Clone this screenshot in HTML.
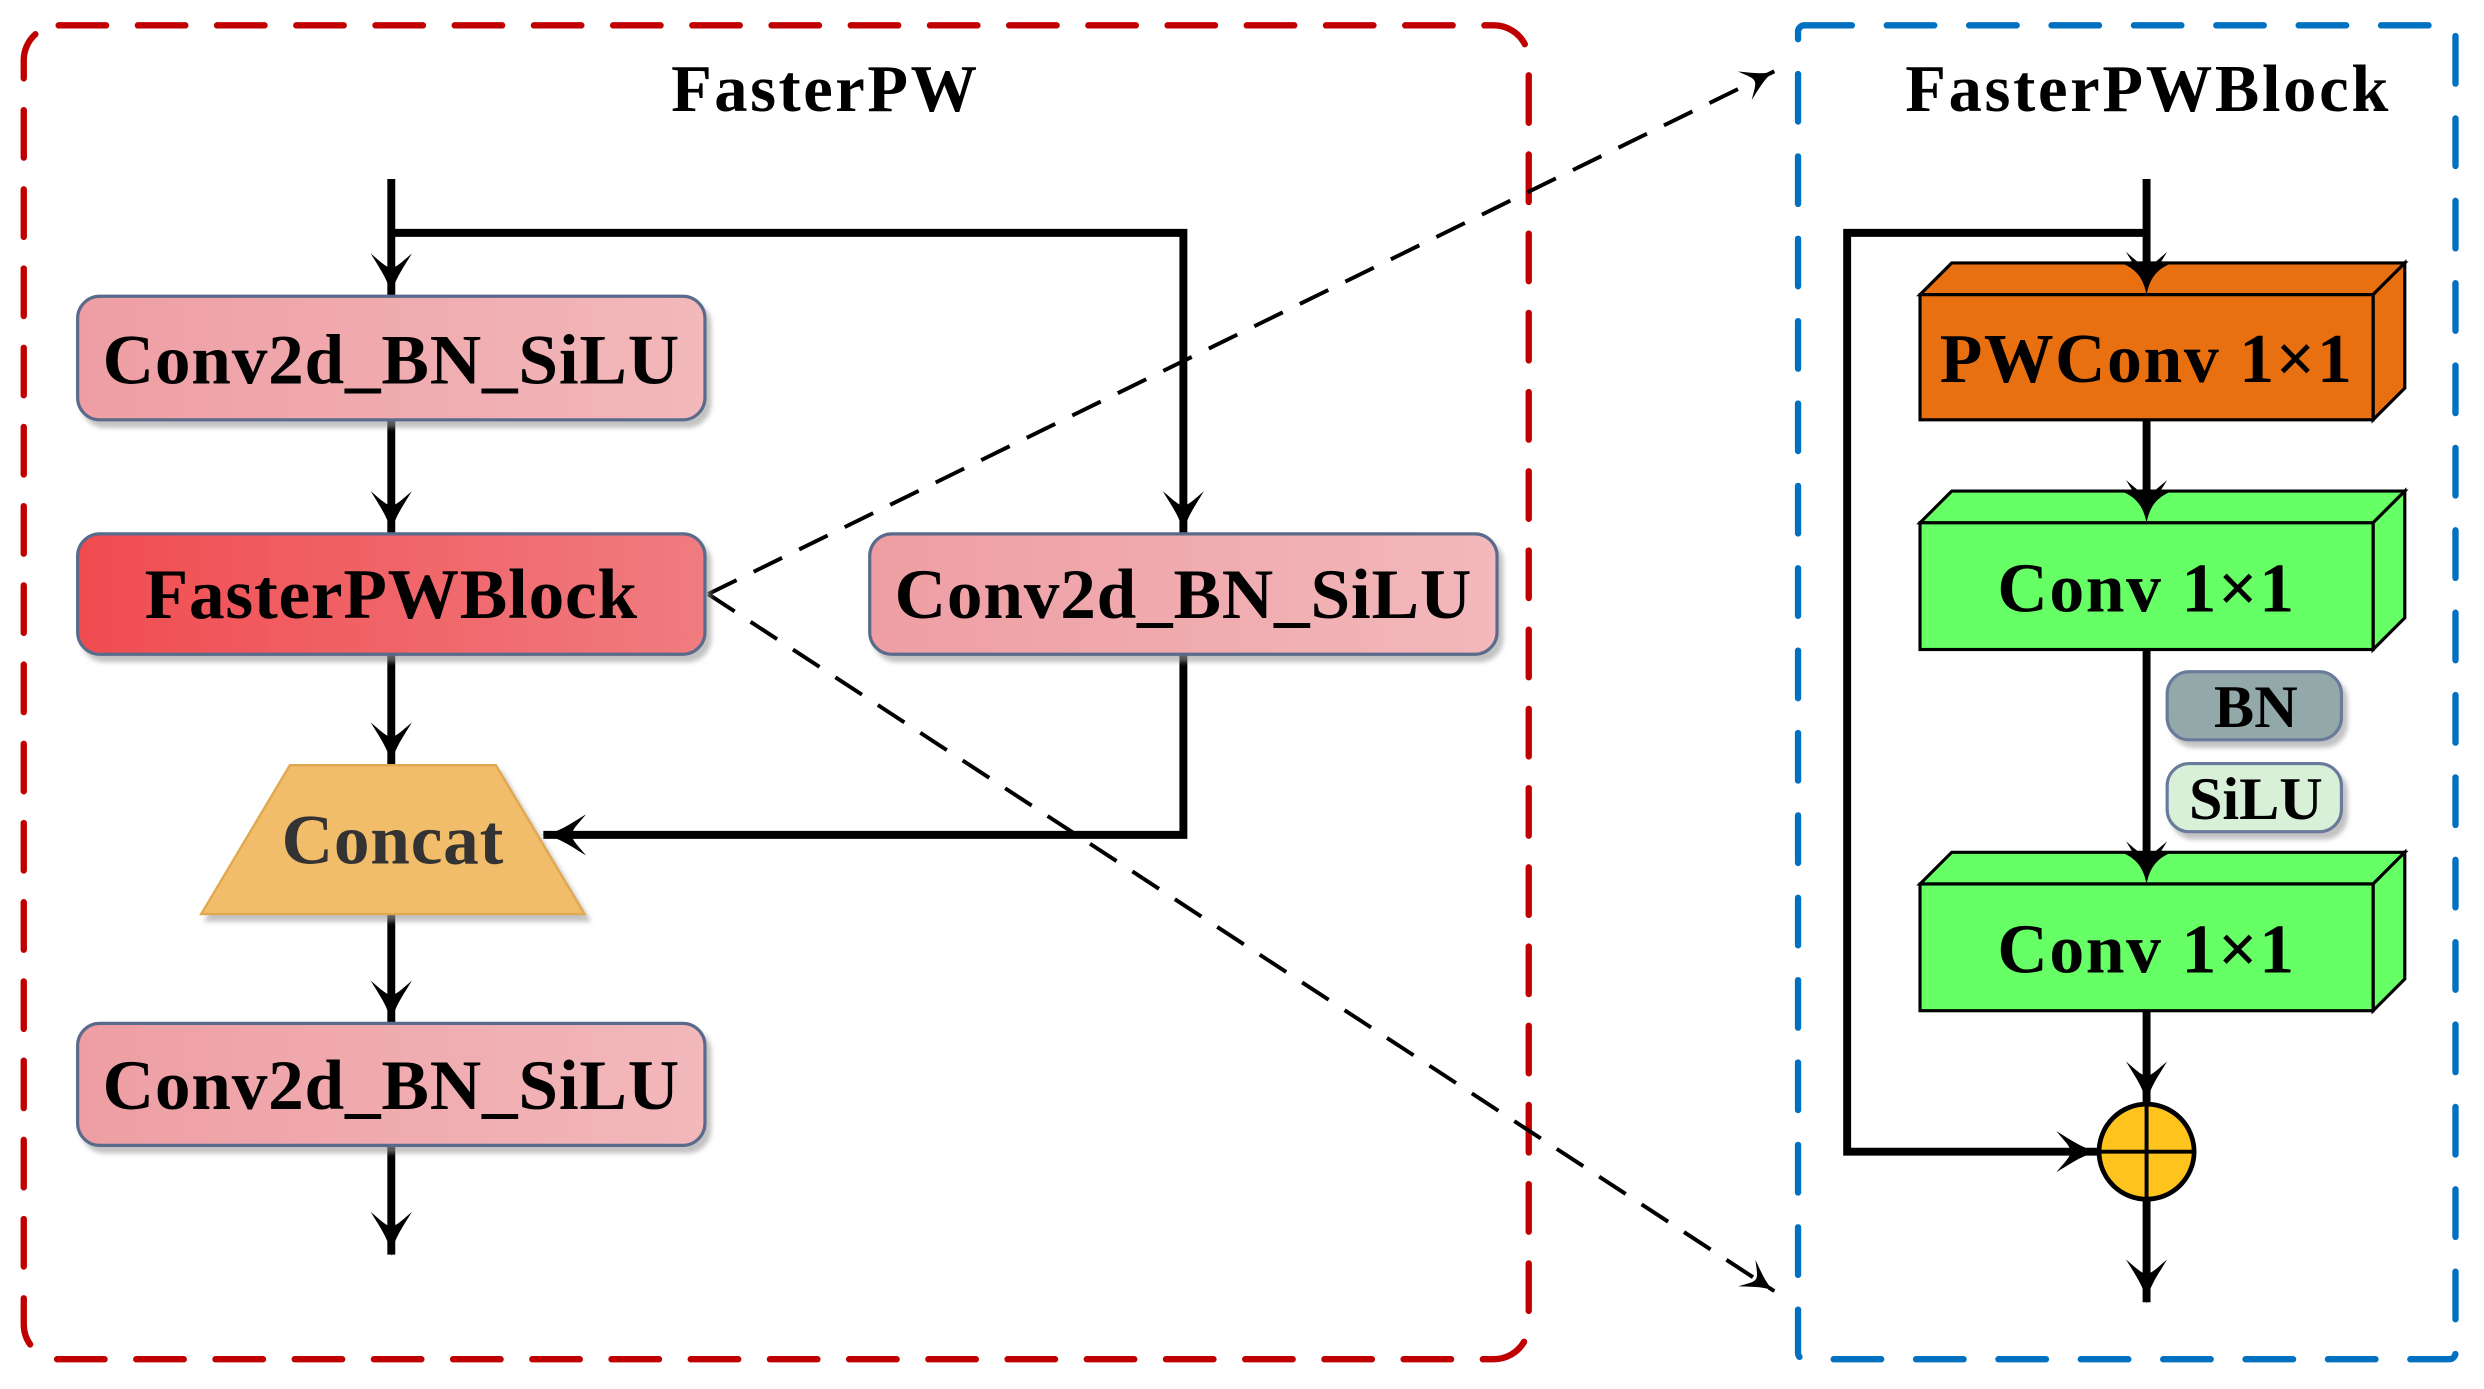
<!DOCTYPE html>
<html><head><meta charset="utf-8"><style>html,body{margin:0;padding:0;background:#fff;overflow:hidden}svg{display:block}</style></head>
<body>
<svg width="2484" height="1389" viewBox="0 0 1568 876.8" preserveAspectRatio="none" xmlns="http://www.w3.org/2000/svg" font-family="Liberation Serif, serif" font-weight="bold">
<defs>
<marker id="ah" viewBox="0 0 28 26" refX="27" refY="13" markerWidth="28" markerHeight="26" markerUnits="userSpaceOnUse" orient="auto">
<path d="M0,0 C10,6 18,12 28,13 C18,14 10,20 0,26 C6,19 9,16 9,13 C9,10 6,7 0,0Z" fill="#000"/>
</marker>
<marker id="ah2" viewBox="0 0 28 26" refX="27" refY="13" markerWidth="22" markerHeight="20" markerUnits="userSpaceOnUse" orient="auto">
<path d="M0,0 C10,6 18,12 28,13 C18,14 10,20 0,26 C6,19 9,16 9,13 C9,10 6,7 0,0Z" fill="#000"/>
</marker>
<linearGradient id="pk" x1="0" x2="1"><stop offset="0" stop-color="#ee9ea3"/><stop offset="1" stop-color="#f2b8bb"/></linearGradient>
<linearGradient id="rd" x1="0" x2="1"><stop offset="0" stop-color="#f04c50"/><stop offset="1" stop-color="#f07c80"/></linearGradient>
<filter id="sh"><feDropShadow dx="3" dy="4" stdDeviation="1.5" flood-color="#999" flood-opacity="0.6"/></filter>
</defs>
<rect x="15" y="16" width="950" height="842" rx="22" fill="none" stroke="#c00000" stroke-width="4" stroke-dasharray="30 20" stroke-linecap="round"/>
<rect x="1135" y="16" width="415" height="842" rx="4" fill="none" stroke="#0070c0" stroke-width="4" stroke-dasharray="30 22" stroke-linecap="round"/>
<text x="521" y="70" font-size="42" letter-spacing="1.6" text-anchor="middle">FasterPW</text>
<text x="1356" y="70" font-size="42" letter-spacing="1.7" text-anchor="middle">FasterPWBlock</text>
<g stroke="#000" stroke-width="5" fill="none">
<path d="M247,113 V187" marker-end="url(#ah)"/>
<path d="M247,147 H747 V337" marker-end="url(#ah)"/>
<path d="M247,265 V337" marker-end="url(#ah)"/>
<path d="M247,413 V483" marker-end="url(#ah)"/>
<path d="M747,413 V527 H343" marker-end="url(#ah)"/>
<path d="M247,577 V646" marker-end="url(#ah)"/>
<path d="M247,723 V792" marker-end="url(#ah)"/>
</g>
<g stroke="#000" stroke-width="2.5" fill="none" stroke-dasharray="20 12">
<path d="M447,375 L1120,45" marker-end="url(#ah2)"/>
<path d="M447,375 L1120,815" marker-end="url(#ah2)"/>
</g>
<g filter="url(#sh)" stroke="#5a6a8a" stroke-width="2">
<rect x="49" y="187" width="396" height="78" rx="14" fill="url(#pk)"/>
<rect x="49" y="337" width="396" height="76" rx="14" fill="url(#rd)"/>
<rect x="549" y="337" width="396" height="76" rx="14" fill="url(#pk)"/>
<rect x="49" y="646" width="396" height="77" rx="14" fill="url(#pk)"/>
</g>
<polygon points="183,483 313,483 369,577 127,577" fill="#f2bd6a" stroke="#e0a850" stroke-width="1.5" filter="url(#sh)"/>
<g font-size="45" text-anchor="middle" letter-spacing="0.5">
<text x="247" y="242">Conv2d_BN_SiLU</text>
<text x="247" y="390">FasterPWBlock</text>
<text x="747" y="390">Conv2d_BN_SiLU</text>
<text x="247" y="700">Conv2d_BN_SiLU</text>
<text x="248" y="545" fill="#333">Concat</text>
</g>
<g stroke="#000" stroke-width="5" fill="none">
<path d="M1355,113 V186" marker-end="url(#ah)"/>
<path d="M1355,147 H1166 V727 H1325" marker-end="url(#ah)"/>
<path d="M1355,265 V330" marker-end="url(#ah)"/>
<path d="M1355,410 V558" marker-end="url(#ah)"/>
<path d="M1355,638 V697" marker-end="url(#ah)"/>
<path d="M1355,757 V822" marker-end="url(#ah)"/>
</g>
<g stroke="#000" stroke-width="2">
<g fill="#e87010">
<polygon points="1212,186 1232,166 1518,166 1498,186"/>
<polygon points="1498,186 1518,166 1518,245 1498,265"/>
<rect x="1212" y="186" width="286" height="79"/>
</g>
<g fill="#66ff66">
<polygon points="1212,330 1232,310 1518,310 1498,330"/>
<polygon points="1498,330 1518,310 1518,390 1498,410"/>
<rect x="1212" y="330" width="286" height="80"/>
<polygon points="1212,558 1232,538 1518,538 1498,558"/>
<polygon points="1498,558 1518,538 1518,618 1498,638"/>
<rect x="1212" y="558" width="286" height="80"/>
</g>
</g>
<path d="M1339,166 C1349,170 1353,176 1355,186 C1357,176 1361,170 1371,166Z M1339,310 C1349,314 1353,320 1355,330 C1357,320 1361,314 1371,310Z M1339,538 C1349,542 1353,548 1355,558 C1357,548 1361,542 1371,538Z" fill="#000"/>
<g font-size="44" text-anchor="middle" letter-spacing="1">
<text x="1355" y="241">PWConv 1×1</text>
<text x="1355" y="386">Conv 1×1</text>
<text x="1355" y="614">Conv 1×1</text>
</g>
<g filter="url(#sh)" stroke="#6a7a9a" stroke-width="2">
<rect x="1368" y="424" width="110" height="43" rx="14" fill="#93a8a8"/>
<rect x="1368" y="482" width="110" height="43" rx="14" fill="#d8f0d8"/>
</g>
<g font-size="38" text-anchor="middle">
<text x="1424" y="459">BN</text>
<text x="1424" y="517">SiLU</text>
</g>
<circle cx="1355" cy="727" r="30" fill="#ffc31e" stroke="#000" stroke-width="3"/>
<path d="M1355,697 V757 M1325,727 H1385" stroke="#000" stroke-width="2.5"/>
</svg>
</body></html>
